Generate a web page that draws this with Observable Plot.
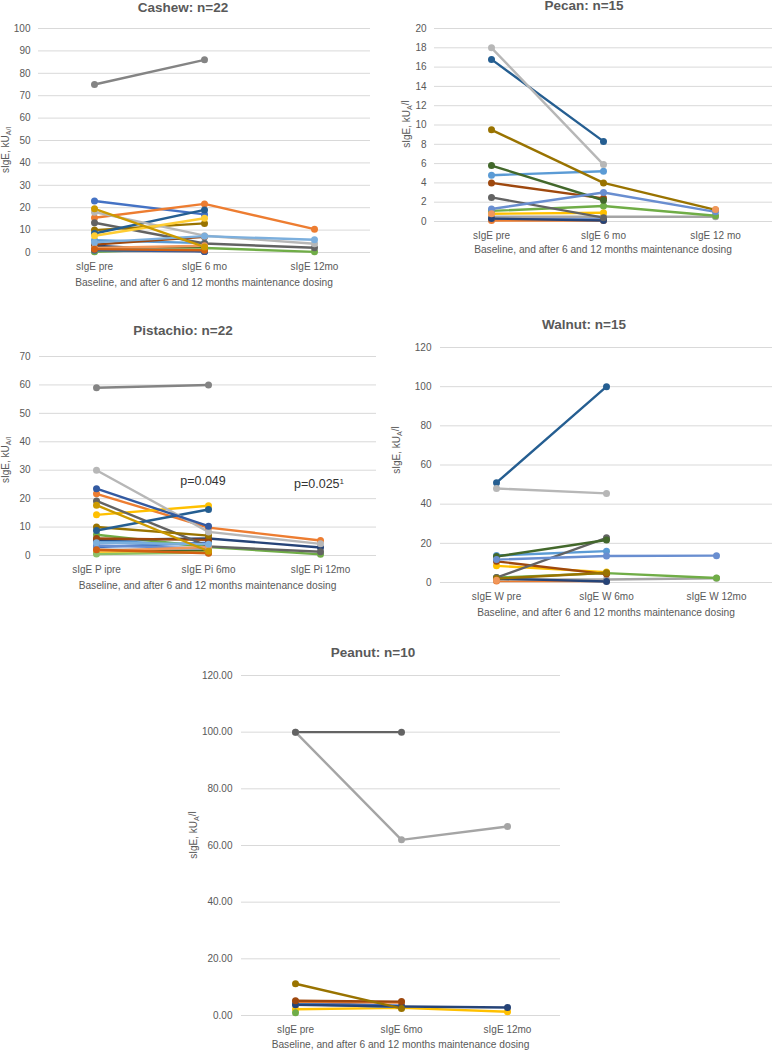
<!DOCTYPE html>
<html><head><meta charset="utf-8">
<script src="https://cdn.jsdelivr.net/npm/d3@7"></script>
<script src="https://cdn.jsdelivr.net/npm/@observablehq/plot@0.6"></script>
<style>
body{margin:0;background:#fff;width:772px;height:1050px;position:relative;overflow:hidden;font-family:"Liberation Sans",Arial,sans-serif}
.panel{position:absolute}
</style></head><body>
<script>
// Excel default series palette
const palette = ["#4472C4","#ED7D31","#A5A5A5","#FFC000","#5B9BD5","#70AD47","#264478","#9E480E","#636363","#997300","#255E91","#43682B","#698ED0","#F1975A","#B7B7B7","#FFCD33","#7CAFDD","#8CC168","#335AA1","#D26012","#848484","#CC9A00"];

const xTitle = "Baseline, and after 6 and 12 months maintenance dosing";

// Cashew n=22
const cashewCats = ["sIgE pre","sIgE 6 mo","sIgE 12mo"];
const cashewPre = [23, 15.5, 0.5, 1, 5.5, 0.3, 3, 3.5, 13.3, 10, 8.5, 2, 1.5, 2, 18, 7.5, 4.5, 1, 1, 1.5, 75, 19.5];
const cashew6 = [17, 21.7, 0.5, 1, 4.2, 2, 0.5, 7, 4, 13, 19, 2, 1.5, 3, 7.5, 15.3, 7.3, 1.5, 0.5, 1, 86, 2.5];
const cashew12 = [null, 10.4, null, null, null, 0.3, null, null, 2.1, null, null, null, null, null, 3.9, null, 5.7, null, null, null, null, null];
const cashewTicks = [0,10,20,30,40,50,60,70,80,90,100];

// Pecan n=15
const pecanCats = ["sIgE pre","sIgE 6 mo","sIgE 12 mo"];
const pecanPre = [0.2, 0.1, 0.5, 0.8, 4.8, 1.1, 0.3, 4.0, 2.5, 9.5, 16.8, 5.8, 1.3, 0.8, 18];
const pecan6 = [0.2, 0.1, 0.5, 0.9, 5.2, 1.6, 0.1, 2.4, 0.4, 4.0, 8.3, 2.2, 3.0, null, 5.9];
const pecan12 = [null, null, 0.5, null, null, 0.6, null, null, null, 1.2, null, null, 1.0, 1.25, null];
const pecanTicks = [0,2,4,6,8,10,12,14,16,18,20];

// Pistachio n=22
const pistCats = ["sIgE P ipre","sIgE Pi 6mo","sIgE Pi 12mo"];
const pistPre = [3, 21.7, 2, 14.3, 5.3, 7.3, 5.5, 6, 19.2, 10, 8.8, 1.5, 3.5, 1.5, 30, 1, 4.5, 0.5, 23.5, 2, 59, 17.7];
const pist6 = [4.5, 9.8, 2, 17.5, 3.5, 3, 6, 5.5, 3.2, 7, 16.2, 1.5, 2.5, 3, 8.3, 1, 4, 1, 10.3, 0.8, 60, 1.5];
const pist12 = [null, 5.3, null, null, null, 0.4, 2.8, null, 1.3, null, null, null, null, null, 4.1, null, null, null, null, null, null, null];
const pistTicks = [0,10,20,30,40,50,60,70];

// Walnut n=15
const walnutCats = ["sIgE W pre","sIgE W 6mo","sIgE W 12mo"];
const walnutPre = [1, 0.8, 1.5, 8.5, 13.8, 2.5, 2, 10.8, 2.5, 2, 51, 13.3, 11.7, 1.2, 48];
const walnut6 = [1, 0.8, 1.5, 5.3, 16, 4.8, 0.5, 4.3, 22.8, 5, 100, 21.7, 13.5, null, 45.5];
const walnut12 = [null, null, 2.2, null, null, 2.3, null, null, null, null, null, null, 13.7, null, null];
const walnutTicks = [0,20,40,60,80,100,120];

// Peanut n=10
const peanutCats = ["sIgE pre","sIgE 6mo","sIgE 12mo"];
const peanutPre = [4.5, 4.8, 100, 2.2, 4, 1.0, 3.8, 5.2, 100, 11.2];
const peanut6 = [3.5, 4.6, 62, 2.7, 3, null, 3.2, 4.9, 100, 2.5];
const peanut12 = [null, null, 66.7, 1.3, null, null, 2.8, null, null, null];
const peanutTicks = [0,20,40,60,80,100,120];

function rowsOf(cats, pre, m6, m12) {
  const cols = [pre, m6, m12];
  const rows = [];
  pre.forEach((_, i) => {
    cols.forEach((c, j) => rows.push({s: i, cat: cats[j], v: c[i] == null ? NaN : c[i], color: palette[i]}));
  });
  return rows;
}

const TXT = "#595959";

function panel(o) {
  const rows = rowsOf(o.cats, o.pre, o.m6, o.m12);
  const chart = Plot.plot({
    width: o.width, height: o.height,
    marginLeft: o.ml, marginRight: o.mr, marginTop: o.mt, marginBottom: o.mb,
    style: {fontFamily: '"Liberation Sans", Arial, sans-serif', fontSize: "10px", color: TXT, background: "white", overflow: "visible"},
    x: {type: "point", domain: o.cats, padding: 0.5, label: null},
    y: {domain: [0, o.ticks[o.ticks.length - 1]], label: null},
    color: {type: "identity"},
    marks: [
      Plot.gridY(o.ticks, {stroke: "#d9d9d9", strokeOpacity: 1, strokeWidth: 1}),
      Plot.axisY(o.ticks, {tickSize: 0, tickPadding: o.typad, label: null, tickFormat: o.fmt || (d => d), fill: TXT}),
      Plot.axisX({tickSize: 0, tickPadding: 10, label: null, fill: TXT}),
      Plot.line(rows, {x: "cat", y: "v", z: "s", stroke: "color", strokeWidth: 2.4}),
      Plot.dot(rows, {x: "cat", y: "v", fill: "color", r: 3.5})
    ]
  });
  const svg = d3.select(chart);
  svg.append("text").attr("x", o.tx).attr("y", o.ty).attr("text-anchor", "middle")
    .attr("font-weight", "bold").attr("font-size", 13.5).attr("fill", TXT).text(o.title);
  const plotMid = o.ml + (o.width - o.ml - o.mr) / 2;
  svg.append("text").attr("x", plotMid).attr("y", o.height - o.mb + o.xty).attr("text-anchor", "middle")
    .attr("font-size", 10.2).attr("fill", TXT).text(xTitle);
  const yl = svg.append("text").attr("transform", `translate(${o.ylx},${o.yly}) rotate(-90)`)
    .attr("text-anchor", "middle").attr("font-size", 10).attr("fill", TXT);
  yl.append("tspan").text("sIgE, kU");
  if (o.subAll) {
    yl.append("tspan").attr("dy", "0.35em").attr("font-size", 7).text("A/l");
  } else {
    yl.append("tspan").attr("dy", "0.35em").attr("font-size", 7).text("A");
    yl.append("tspan").attr("dy", "-0.35em").text("/l");
  }
  (o.notes || []).forEach(n => {
    const t = svg.append("text").attr("x", n.x).attr("y", n.y).attr("text-anchor", "middle")
      .attr("font-size", 12.5).attr("fill", "#333").text(n.text);
    if (n.sup) t.append("tspan").attr("dy", "-0.45em").attr("font-size", 8).text(n.sup);
  });
  const div = document.createElement("div");
  div.className = "panel";
  div.style.left = o.left + "px";
  div.style.top = o.top + "px";
  div.appendChild(chart);
  document.body.appendChild(div);
}

panel({title: "Cashew: n=22", cats: cashewCats, pre: cashewPre, m6: cashew6, m12: cashew12, ticks: cashewTicks,
  left: 0, top: 0, width: 386, height: 300, ml: 38, mr: 16, mt: 28, mb: 48, typad: 8,
  tx: 183, ty: 12, ylx: 9, yly: 150, xty: 34, subAll: true});

panel({title: "Pecan: n=15", cats: pecanCats, pre: pecanPre, m6: pecan6, m12: pecan12, ticks: pecanTicks,
  left: 386, top: 0, width: 386, height: 300, ml: 48, mr: 0, mt: 28, mb: 79, typad: 8,
  tx: 198, ty: 10, ylx: 24, yly: 124, xty: 32, subAll: false});

panel({title: "Pistachio: n=22", cats: pistCats, pre: pistPre, m6: pist6, m12: pist12, ticks: pistTicks,
  left: 0, top: 310, width: 386, height: 300, ml: 39, mr: 10, mt: 46, mb: 55, typad: 9,
  tx: 183, ty: 25, ylx: 9, yly: 150, xty: 34, subAll: true,
  notes: [{x: 203, y: 175, text: "p=0.049"}, {x: 319, y: 178, text: "p=0.025", sup: "1"}]});

panel({title: "Walnut: n=15", cats: walnutCats, pre: walnutPre, m6: walnut6, m12: walnut12, ticks: walnutTicks,
  left: 386, top: 310, width: 386, height: 310, ml: 54, mr: 0, mt: 37, mb: 38, typad: 9,
  tx: 198, ty: 19, ylx: 14, yly: 140, xty: 34, subAll: false});

panel({title: "Peanut: n=10", cats: peanutCats, pre: peanutPre, m6: peanut6, m12: peanut12, ticks: peanutTicks,
  left: 180, top: 640, width: 400, height: 410, ml: 61, mr: 20, mt: 35, mb: 35, typad: 9, fmt: d3.format(".2f"),
  tx: 193, ty: 17, ylx: 17, yly: 195, xty: 33, subAll: false});
</script>
</body></html>
